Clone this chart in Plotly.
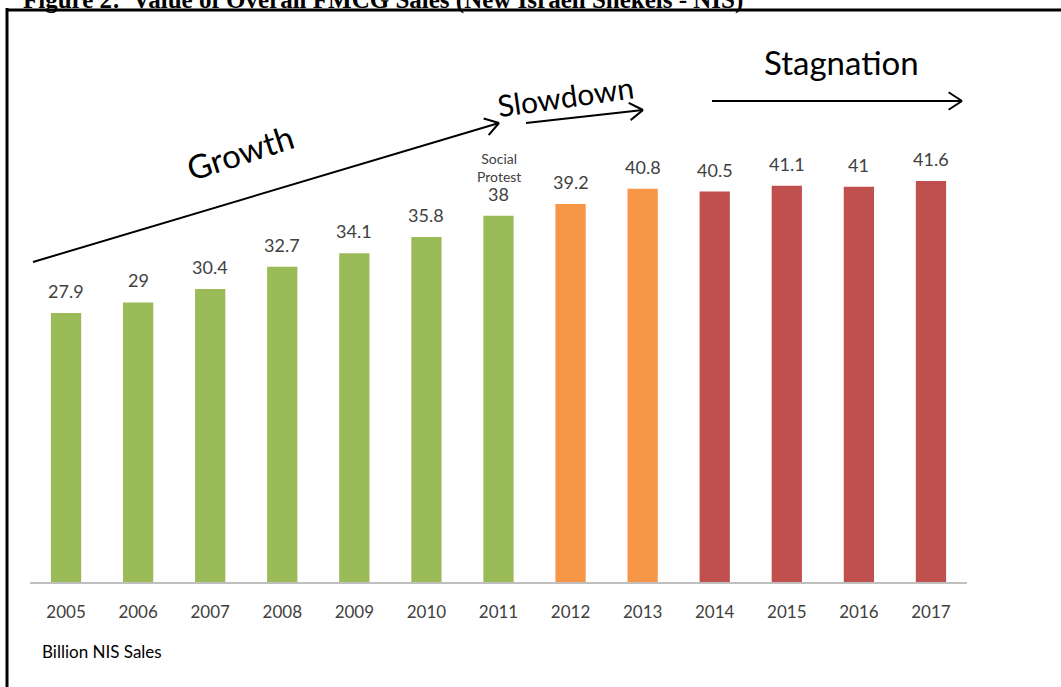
import math
import plotly.graph_objects as go

# ---- data ----
years = ["2005", "2006", "2007", "2008", "2009", "2010", "2011",
         "2012", "2013", "2014", "2015", "2016", "2017"]
sales = [27.9, 29, 30.4, 32.7, 34.1, 35.8, 38, 39.2, 40.8, 40.5, 41.1, 41, 41.6]
labels = ["27.9", "29", "30.4", "32.7", "34.1", "35.8", "38",
          "39.2", "40.8", "40.5", "41.1", "41", "41.6"]
phase = ["growth"] * 7 + ["slowdown"] * 2 + ["stagnation"] * 4
phase_colors = {"growth": "#9BBB59", "slowdown": "#F79646", "stagnation": "#C0504D"}
protest_year = "2011"

W, H = 1061, 687
L, R, T, B = 30, 94, 100, 105
PW, PH = W - L - R, H - T - B


def px(x, y):
    """pixel -> paper coords"""
    return (x - L) / PW, (H - B - y) / PH


fig = go.Figure()
fig.add_trace(go.Bar(
    x=years, y=sales,
    marker=dict(color=[phase_colors[p] for p in phase], line=dict(width=0)),
    hoverinfo="x+y",
))

ann = []
# value labels (category index positions)
for i, (v, lab) in enumerate(zip(sales, labels)):
    ann.append(dict(x=i, y=v, xref="x", yref="y", text=lab, showarrow=False,
                    yanchor="bottom", yshift=9,
                    font=dict(family="Lato", size=18, color="#404040")))
# social protest note
pi = years.index(protest_year)
ann.append(dict(x=pi, y=sales[pi], xref="x", yref="y", text="Social<br>Protest",
                showarrow=False, yanchor="bottom", yshift=29,
                font=dict(family="Lato", size=14, color="#404040")))


def text_at(x, y, t, size, angle=0):
    px_, py_ = px(x, y)
    ann.append(dict(x=px_, y=py_, xref="paper", yref="paper", text=t,
                    showarrow=False, textangle=angle, xanchor="center", yanchor="middle",
                    font=dict(family="Lato", size=size, color="#000000")))


text_at(240, 152, "Growth", 33, -18)
text_at(565, 96, "Slowdown", 30, -8)
text_at(841, 62, "Stagnation", 33, 0)

# axis caption
cx, cy = px(40, 651)
ann.append(dict(x=cx, y=cy, xref="paper", yref="paper", text="Billion NIS Sales",
                showarrow=False, xanchor="left", yanchor="middle",
                font=dict(family="Lato", size=17, color="#000000")))

# cropped figure title
tx, ty = px(745, 16)
ann.append(dict(x=tx, y=ty, xref="paper", yref="paper",
                text="<b>Figure 2:  Value of Overall FMCG Sales (New Israeli Shekels - NIS)</b>",
                showarrow=False, xanchor="right", yanchor="bottom",
                font=dict(family="Liberation Serif", size=25, color="#000000")))

shapes = []


def line(x0, y0, x1, y1, w=2, color="#000000"):
    a, b = px(x0, y0)
    c, d = px(x1, y1)
    shapes.append(dict(type="line", xref="paper", yref="paper", x0=a, y0=b, x1=c, y1=d,
                       line=dict(color=color, width=w)))


def arrow(x0, y0, x1, y1):
    line(x0, y0, x1, y1, 2)
    ang = math.atan2(y1 - y0, x1 - x0)
    for s in (1, -1):
        a = ang + math.pi + s * math.radians(33)
        line(x1, y1, x1 + 16 * math.cos(a), y1 + 16 * math.sin(a), 2)


arrow(33, 262, 499, 123)
arrow(526, 123, 643, 110)
arrow(712, 101, 962, 101)

# frame
line(7, 10, 1070, 10, 3)
line(7, 8, 7, 700, 3)

fig.update_layout(
    width=W, height=H,
    margin=dict(l=L, r=R, t=T, b=B, autoexpand=False),
    paper_bgcolor="white", plot_bgcolor="white",
    bargap=0.58,
    showlegend=False,
    annotations=ann,
    shapes=shapes,
    xaxis=dict(type="category", showgrid=False, zeroline=False,
               showline=True, linecolor="#BFBFBF", linewidth=2,
               ticks="outside", ticklen=14, tickcolor="rgba(0,0,0,0)",
               tickfont=dict(family="Lato", size=17, color="#404040")),
    yaxis=dict(range=[0, 50], visible=False, showgrid=False, zeroline=False),
)

fig.write_html("out.html")
